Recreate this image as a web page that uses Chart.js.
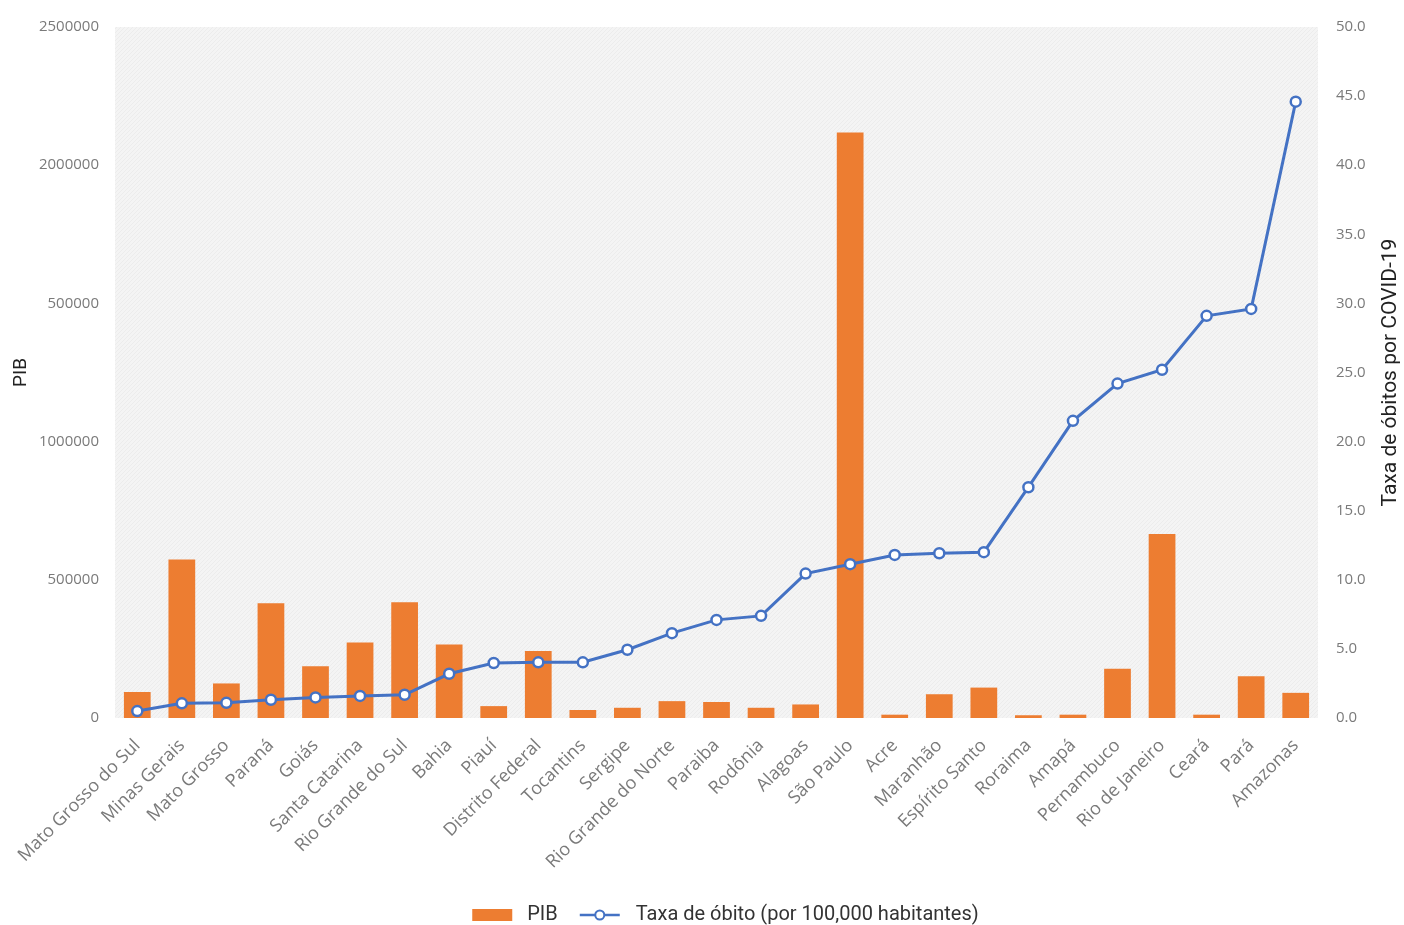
<!DOCTYPE html>
<html lang="pt-BR"><head>
  <meta charset="UTF-8">
  <title>PIB e taxa de óbito por COVID-19</title>
  <script src="https://cdn.jsdelivr.net/npm/chart.js"></script>
  <style>
    html, body { margin: 0; padding: 0; background: #fff; }
    canvas { display: block; }
  </style>
</head><body>
<canvas id="chart" width="1404" height="925"></canvas>
<script>
  // data
  const states = ['Mato Grosso do Sul', 'Minas Gerais', 'Mato Grosso', 'Paraná', 'Goiás',
    'Santa Catarina', 'Rio Grande do Sul', 'Bahia', 'Piauí', 'Distrito Federal', 'Tocantins',
    'Sergipe', 'Rio Grande do Norte', 'Paraiba', 'Rodônia', 'Alagoas', 'São Paulo', 'Acre',
    'Maranhão', 'Espírito Santo', 'Roraima', 'Amapá', 'Pernambuco', 'Rio de Janeiro', 'Ceará',
    'Pará', 'Amazonas'];
  const pib = [94000, 573000, 125000, 415000, 187000, 273000, 419000, 266000, 43000, 242000,
    29000, 37000, 61000, 58000, 37000, 49000, 2118000, 12000, 86000, 110000, 10000, 12000,
    178000, 666000, 12000, 151000, 91000];
  const taxa = [0.5, 1.06, 1.1, 1.32, 1.49, 1.6, 1.68, 3.2, 3.98, 4.03, 4.03, 4.94, 6.14,
    7.1, 7.39, 10.45, 11.13, 11.8, 11.92, 12.0, 16.7, 21.5, 24.2, 25.2, 29.1, 29.6, 44.6];
  const pibTicks = ['0', '500000', '1000000', '500000', '2000000', '2500000'];
  const taxaTicks = ['0.0', '5.0', '10.0', '15.0', '20.0', '25.0', '30.0', '35.0', '40.0', '45.0', '50.0'];
  const seriesNames = ['PIB', 'Taxa de óbito (por 100,000 habitantes)'];

  const orange = '#ED7D31';
  const blue = '#4472C4';
  const tickColor = '#7a7a7a';

  // hatched grey fill behind the plot
  function makeHatch() {
    const c = document.createElement('canvas');
    c.width = 4; c.height = 4;
    const g = c.getContext('2d');
    g.fillStyle = '#f4f4f4';
    g.fillRect(0, 0, 4, 4);
    g.fillStyle = '#ececec';
    for (let i = 0; i < 4; i++) g.fillRect(i, 3 - i, 1, 1);
    return c;
  }

  const plotBackground = {
    id: 'plotBackground',
    beforeDatasetsDraw(chart) {
      const { ctx, chartArea: a } = chart;
      ctx.save();
      ctx.fillStyle = ctx.createPattern(makeHatch(), 'repeat');
      ctx.fillRect(a.left, a.top, a.right - a.left, a.bottom - a.top);
      ctx.restore();
    }
  };

  // right axis title reads bottom to top in the original
  const rightTitle = {
    id: 'rightTitle',
    afterDraw(chart) {
      const { ctx, chartArea: a } = chart;
      const s = chart.scales.y1;
      ctx.save();
      ctx.translate(s.right - 13, (a.top + a.bottom) / 2);
      ctx.rotate(-Math.PI / 2);
      ctx.font = '21px Roboto';
      ctx.fillStyle = '#222';
      ctx.textAlign = 'center';
      ctx.textBaseline = 'middle';
      ctx.fillText('Taxa de óbitos por COVID-19', 0, 0);
      ctx.restore();
    }
  };

  // legend drawn by hand: bar swatch, line-with-marker swatch
  const bottomLegend = {
    id: 'bottomLegend',
    afterDraw(chart) {
      const { ctx, chartArea: a } = chart;
      ctx.save();
      ctx.font = '20px Roboto';
      ctx.textBaseline = 'middle';
      ctx.textAlign = 'left';
      const w0 = ctx.measureText(seriesNames[0]).width;
      const w1 = ctx.measureText(seriesNames[1]).width;
      const total = 40 + 15 + w0 + 22 + 40 + 16 + w1;
      let x = (a.left + a.right) / 2 + 9 - total / 2;
      const y = chart.height - 10;

      ctx.fillStyle = orange;
      ctx.fillRect(x, y - 6, 40, 12);
      x += 55;
      ctx.fillStyle = '#333';
      ctx.fillText(seriesNames[0], x, y);
      x += w0 + 22;

      ctx.strokeStyle = blue;
      ctx.lineWidth = 2.5;
      ctx.beginPath(); ctx.moveTo(x, y); ctx.lineTo(x + 40, y); ctx.stroke();
      ctx.beginPath(); ctx.arc(x + 20, y, 4.5, 0, Math.PI * 2);
      ctx.fillStyle = '#fff'; ctx.fill();
      ctx.lineWidth = 2; ctx.stroke();
      x += 56;
      ctx.fillStyle = '#333';
      ctx.fillText(seriesNames[1], x, y);
      ctx.restore();
    }
  };

  const ctx = document.getElementById('chart').getContext('2d');
  const chart = new Chart(ctx, {
    type: 'bar',
    data: {
      labels: states,
      datasets: [
        {
          type: 'bar',
          label: seriesNames[0],
          data: pib,
          yAxisID: 'y',
          backgroundColor: orange,
          categoryPercentage: 1,
          barPercentage: 0.6,
          order: 1
        },
        {
          type: 'line',
          label: seriesNames[1],
          data: taxa,
          yAxisID: 'y1',
          borderColor: blue,
          borderWidth: 3,
          pointRadius: 5,
          pointBorderWidth: 2.5,
          pointBackgroundColor: '#fff',
          pointBorderColor: blue,
          tension: 0,
          order: 0
        }
      ]
    },
    options: {
      responsive: false,
      animation: false,
      layout: { padding: { top: 22, left: 0, right: 0, bottom: 57 } },
      plugins: {
        tooltip: { enabled: false },
        legend: { display: false }
      },
      scales: {
        x: {
          grid: { display: false, drawTicks: false },
          border: { display: false },
          ticks: {
            autoSkip: false,
            maxRotation: 45,
            minRotation: 45,
            padding: 17,
            color: tickColor,
            font: { family: 'Open Sans', size: 18 }
          },
          afterFit(scale) { scale.height = 150; }
        },
        y: {
          position: 'left',
          min: 0,
          max: 2500000,
          grid: { display: false, drawTicks: false },
          border: { display: false },
          ticks: {
            stepSize: 500000,
            padding: 16,
            color: tickColor,
            font: { family: 'Open Sans', size: 15 },
            callback: (v, i) => pibTicks[i]
          },
          title: {
            display: true,
            text: 'PIB',
            color: '#222',
            font: { family: 'Roboto', size: 19 },
            padding: { top: 10, bottom: 0 }
          },
          afterFit(scale) { scale.width = 115; }
        },
        y1: {
          position: 'right',
          min: 0,
          max: 50,
          grid: { display: false, drawTicks: false },
          border: { display: false },
          ticks: {
            stepSize: 5,
            padding: 18,
            color: tickColor,
            font: { family: 'Open Sans', size: 15 },
            callback: (v, i) => taxaTicks[i]
          },
          afterFit(scale) { scale.width = 86; }
        }
      }
    },
    plugins: [plotBackground, rightTitle, bottomLegend]
  });
</script>
</body></html>
